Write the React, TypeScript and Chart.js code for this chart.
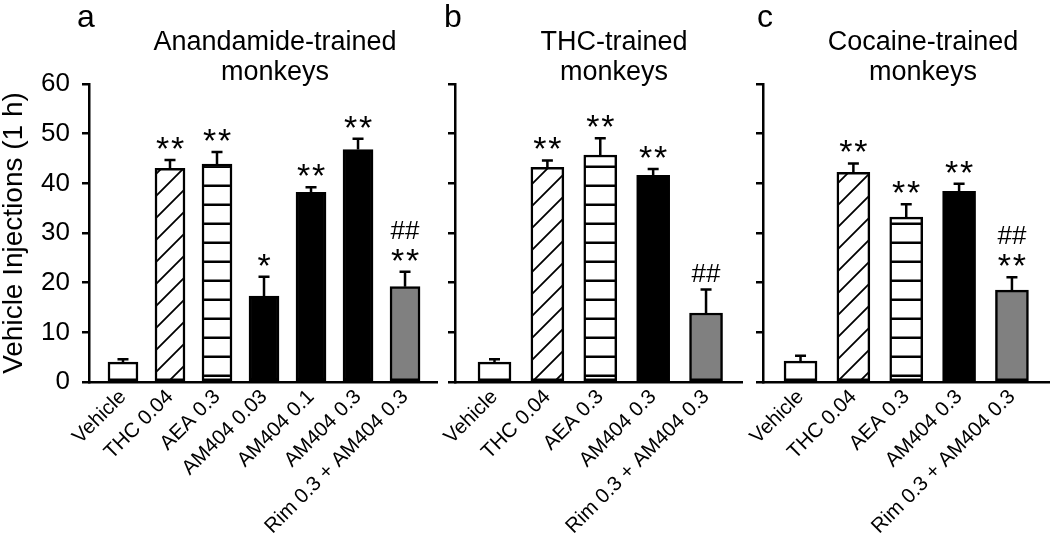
import React, { useEffect, useRef } from 'react';
import { Chart, registerables } from 'chart.js';

Chart.register(...registerables);

const FONT = '"Liberation Sans", Arial, Helvetica, sans-serif';

// ---------- data ----------
const aCategories = ['Vehicle', 'THC 0.04', 'AEA 0.3', 'AM404 0.03', 'AM404 0.1', 'AM404 0.3', 'Rim 0.3 + AM404 0.3'];
const aValues = [4.0, 43.0, 43.9, 17.3, 38.2, 46.8, 19.2];
const aErrors = [0.6, 1.7, 2.4, 3.9, 1.0, 2.2, 3.0];
const aStars = ['', '**', '**', '*', '**', '**', '**'];
const aHashes = ['', '', '', '', '', '', '##'];
const aFills = ['open', 'diag', 'horiz', 'black', 'black', 'black', 'gray'];

const bCategories = ['Vehicle', 'THC 0.04', 'AEA 0.3', 'AM404 0.3', 'Rim 0.3 + AM404 0.3'];
const bValues = [4.0, 43.2, 45.7, 41.6, 13.9];
const bErrors = [0.6, 1.4, 3.4, 1.3, 4.7];
const bStars = ['', '**', '**', '**', ''];
const bHashes = ['', '', '', '', '##'];
const bFills = ['open', 'diag', 'horiz', 'black', 'gray'];

const cCategories = ['Vehicle', 'THC 0.04', 'AEA 0.3', 'AM404 0.3', 'Rim 0.3 + AM404 0.3'];
const cValues = [4.2, 42.2, 33.2, 38.4, 18.5];
const cErrors = [1.1, 1.8, 2.6, 1.5, 2.6];
const cStars = ['', '**', '**', '**', '**'];
const cHashes = ['', '', '', '', '##'];
const cFills = ['open', 'diag', 'horiz', 'black', 'gray'];

const yAxisTitle = 'Vehicle Injections (1 h)';
const yMin = 0;
const yMax = 60;
const yStep = 10;

// ---------- patterns ----------
function makeHoriz(): CanvasPattern | string {
  const t = document.createElement('canvas');
  t.width = 19;
  t.height = 19;
  const g = t.getContext('2d');
  if (!g) return '#fff';
  g.fillStyle = '#fff';
  g.fillRect(0, 0, 19, 19);
  g.fillStyle = '#000';
  g.fillRect(0, 13.5, 19, 2.5);
  return g.createPattern(t, 'repeat') || '#fff';
}

function makeDiag(): CanvasPattern | string {
  const s = 22;
  const t = document.createElement('canvas');
  t.width = s;
  t.height = s;
  const g = t.getContext('2d');
  if (!g) return '#fff';
  g.fillStyle = '#fff';
  g.fillRect(0, 0, s, s);
  g.strokeStyle = '#000';
  g.lineWidth = 1.8;
  g.beginPath();
  g.moveTo(-s / 2, s / 2);
  g.lineTo(s / 2, -s / 2);
  g.moveTo(0, s);
  g.lineTo(s, 0);
  g.moveTo(s / 2, s * 1.5);
  g.lineTo(s * 1.5, s / 2);
  g.stroke();
  return g.createPattern(t, 'repeat') || '#fff';
}

function fillFor(kind: string, horiz: any, diag: any) {
  if (kind === 'diag') return diag;
  if (kind === 'horiz') return horiz;
  if (kind === 'black') return '#000';
  if (kind === 'gray') return '#808080';
  return '#fff';
}

type Panel = {
  letter: string;
  title: string[];
  categories: string[];
  values: number[];
  errors: number[];
  stars: string[];
  hashes: string[];
  fills: string[];
  left: number;
  width: number;
  axisWidth: number;
  padRight: number;
  xMin: number;
  xMax: number;
  barWidth: number;
  showY: boolean;
  letterX: number;
  titleX: number;
};

const panels: Panel[] = [
  {
    letter: 'a', title: ['Anandamide-trained', 'monkeys'],
    categories: aCategories, values: aValues, errors: aErrors, stars: aStars, hashes: aHashes, fills: aFills,
    left: 0, width: 445, axisWidth: 89, padRight: 8, xMin: -0.723, xMax: 6.68, barWidth: 30, showY: true,
    letterX: 86, titleX: 275,
  },
  {
    letter: 'b', title: ['THC-trained', 'monkeys'],
    categories: bCategories, values: bValues, errors: bErrors, stars: bStars, hashes: bHashes, fills: bFills,
    left: 430, width: 320, axisWidth: 25, padRight: 8, xMin: -0.747, xMax: 4.68, barWidth: 33, showY: false,
    letterX: 453, titleX: 614,
  },
  {
    letter: 'c', title: ['Cocaine-trained', 'monkeys'],
    categories: cCategories, values: cValues, errors: cErrors, stars: cStars, hashes: cHashes, fills: cFills,
    left: 735, width: 315, axisWidth: 28, padRight: 0, xMin: -0.71, xMax: 4.72, barWidth: 33, showY: false,
    letterX: 765, titleX: 923,
  },
];

function drawInk(ctx: CanvasRenderingContext2D, text: string, x: number, cy: number, font: string) {
  ctx.font = font;
  const m = ctx.measureText(text);
  const asc = m.actualBoundingBoxAscent;
  const desc = m.actualBoundingBoxDescent;
  ctx.textAlign = 'center';
  ctx.textBaseline = 'alphabetic';
  ctx.fillText(text, x, cy + (asc - desc) / 2);
}

function makePlugin(p: Panel) {
  return {
    id: 'annot' + p.letter,
    afterDatasetsDraw(chart: any) {
      const ctx: CanvasRenderingContext2D = chart.ctx;
      const ys = chart.scales.y;
      const meta = chart.getDatasetMeta(0);
      ctx.save();
      ctx.fillStyle = '#000';
      ctx.strokeStyle = '#000';
      meta.data.forEach((el: any, i: number) => {
        const x = el.x;
        const top = ys.getPixelForValue(p.values[i]);
        const cap = ys.getPixelForValue(p.values[i] + p.errors[i]);
        ctx.lineWidth = 2.5;
        ctx.beginPath();
        ctx.moveTo(x, top);
        ctx.lineTo(x, cap);
        ctx.moveTo(x - 5.5, cap);
        ctx.lineTo(x + 5.5, cap);
        ctx.stroke();
        const marks = [p.stars[i], p.hashes[i]].filter(Boolean);
        let cy = cap - 17;
        marks.forEach((t) => {
          if (t.startsWith('*')) {
            const n = t.length;
            for (let k = 0; k < n; k++) {
              const dx = (k - (n - 1) / 2) * 15;
              drawInk(ctx, '*', x + dx, cy, `34px ${FONT}`);
            }
          } else {
            drawInk(ctx, t, x, cy, `26px ${FONT}`);
          }
          cy -= 25;
        });
      });
      ctx.restore();
    },
    afterDraw(chart: any) {
      const ctx: CanvasRenderingContext2D = chart.ctx;
      ctx.save();
      ctx.fillStyle = '#000';
      ctx.textAlign = 'center';
      ctx.textBaseline = 'alphabetic';
      ctx.font = `32px ${FONT}`;
      ctx.fillText(p.letter, p.letterX - p.left, 27);
      ctx.font = `27px ${FONT}`;
      ctx.fillText(p.title[0], p.titleX - p.left, 50);
      ctx.fillText(p.title[1], p.titleX - p.left, 80);
      ctx.restore();
    },
  };
}

function PanelChart({ p }: { p: Panel }) {
  const ref = useRef<HTMLCanvasElement | null>(null);
  useEffect(() => {
    if (!ref.current) return;
    const horiz = makeHoriz();
    const diag = makeDiag();
    const chart = new Chart(ref.current, {
      type: 'bar',
      data: {
        datasets: [
          {
            data: p.values.map((v, i) => ({ x: i, y: v })),
            backgroundColor: p.fills.map((f) => fillFor(f, horiz, diag)),
            borderColor: '#000',
            borderWidth: 2.5,
            borderSkipped: false,
            barThickness: p.barWidth,
          } as any,
        ],
      },
      options: {
        responsive: false,
        animation: false,
        layout: { padding: { top: 84, left: 0, right: p.padRight, bottom: 0 } },
        plugins: { legend: { display: false }, tooltip: { enabled: false }, title: { display: false } },
        scales: {
          x: {
            type: 'linear',
            min: p.xMin,
            max: p.xMax,
            offset: false,
            afterBuildTicks: (s: any) => {
              s.ticks = p.categories.map((_, i) => ({ value: i }));
            },
            afterFit: (s: any) => {
              s.height = 155;
              s.paddingLeft = 0;
              s.paddingRight = 0;
            },
            border: { display: true, color: '#000', width: 2.5 },
            grid: { display: false, drawTicks: false, offset: false },
            ticks: {
              autoSkip: false,
              minRotation: 45,
              maxRotation: 45,
              padding: 3,
              color: '#000',
              font: { size: 20.5, family: FONT },
              callback: (v: any) => p.categories[Number(v)] ?? '',
            },
          },
          y: {
            min: yMin,
            max: yMax,
            afterFit: (s: any) => {
              s.width = p.axisWidth;
            },
            border: { display: true, color: '#000', width: 2.5 },
            grid: { drawOnChartArea: false, drawTicks: true, tickLength: 7, color: '#000', lineWidth: 2.5 },
            ticks: {
              stepSize: yStep,
              display: p.showY,
              padding: 12,
              color: '#000',
              font: { size: 26, family: FONT },
            },
            title: {
              display: p.showY,
              text: yAxisTitle,
              color: '#000',
              padding: 0,
              font: { size: 28, family: FONT, lineHeight: 1 },
            },
          },
        },
      } as any,
      plugins: [makePlugin(p)],
    });
    return () => chart.destroy();
  }, [p]);
  return (
    <canvas
      ref={ref}
      width={p.width}
      height={537}
      style={{ position: 'absolute', left: p.left, top: 0, width: p.width, height: 537 }}
    />
  );
}

export default function App() {
  Chart.defaults.font.family = FONT;
  return (
    <div style={{ position: 'fixed', left: 0, top: 0, width: 1050, height: 537, background: '#fff', overflow: 'hidden' }}>
      {panels.map((p) => (
        <PanelChart key={p.letter} p={p} />
      ))}
    </div>
  );
}
